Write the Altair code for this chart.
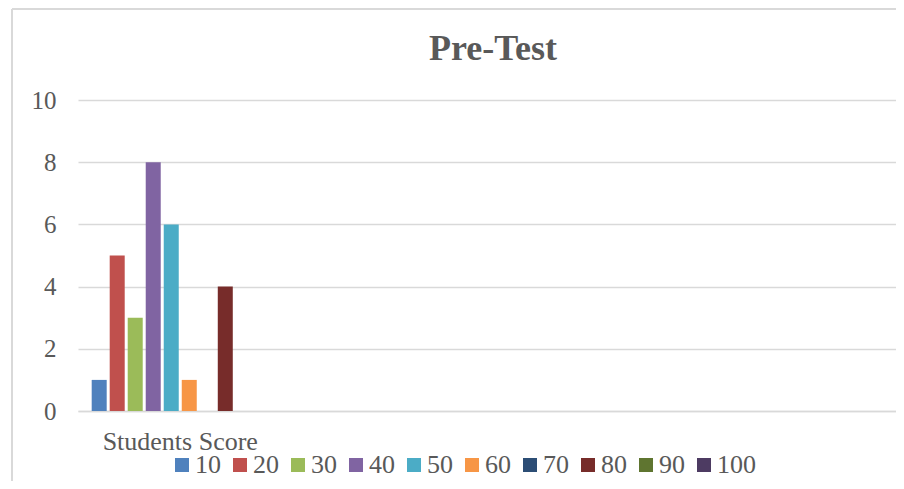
import altair as alt
import pandas as pd

categories = ["Students Score"]
series = ["10", "20", "30", "40", "50", "60", "70", "80", "90", "100"]
values = [1, 5, 3, 8, 6, 1, 0, 4, 0, 0]
colors = ["#4F81BD", "#C0504D", "#9BBB59", "#8064A2", "#4BACC6",
          "#F79646", "#2C4D75", "#772C2A", "#5F7530", "#4D3B62"]
x_domain = ["Students Score", " ", "  ", "   "]
y_ticks = [0, 2, 4, 6, 8, 10]

df = pd.DataFrame({
    "category": categories * len(series),
    "series": series,
    "value": values,
})

W, H = 818, 311
FONT = "Liberation Serif"
TXT = "#595959"
GRID = "#d9d9d9"

bars = alt.Chart(df).mark_bar().encode(
    x=alt.X(
        "category:N",
        scale=alt.Scale(domain=x_domain, paddingInner=0, paddingOuter=0),
        axis=alt.Axis(title=None, labelAngle=0, labelFontSize=26, labelFont=FONT,
                      labelColor=TXT, labelBaseline="alphabetic", labelPadding=38,
                      ticks=False, domainColor=GRID, domainWidth=1.5, grid=False),
    ),
    xOffset=alt.XOffset("series:N", sort=series,
                        scale=alt.Scale(paddingInner=0.167, paddingOuter=0.76)),
    y=alt.Y(
        "value:Q",
        scale=alt.Scale(domain=[0, 10]),
        axis=alt.Axis(values=y_ticks, title=None, labelFontSize=25, labelFont=FONT,
                      labelColor=TXT, labelPadding=22, ticks=False, domain=False,
                      gridColor=GRID, gridWidth=1.5),
    ),
    color=alt.Color(
        "series:N", sort=series,
        scale=alt.Scale(domain=series, range=colors),
        legend=alt.Legend(title=None, orient="none", legendX=91, legendY=352,
                          direction="horizontal", columns=10, gridAlign="none",
                          symbolType="square",
                          symbolSize=196, symbolStrokeWidth=0, symbolOpacity=1,
                          labelFontSize=26, labelFont=FONT, labelColor=TXT,
                          labelOffset=0, columnPadding=6),
    ),
)

frame = pd.DataFrame({"k": [0]})
left_border = alt.Chart(frame).mark_rule(color=GRID, strokeWidth=2).encode(
    x=alt.value(-66), y=alt.value(-91), y2=alt.value(H + 70)
)
top_border = alt.Chart(frame).mark_rule(color=GRID, strokeWidth=2).encode(
    x=alt.value(-66), x2=alt.value(W), y=alt.value(-91)
)

chart = alt.layer(bars, left_border, top_border).properties(
    width=W, height=H,
    title=alt.TitleParams("Pre-Test", font=FONT, fontSize=36, fontWeight="bold",
                          color=TXT, anchor="middle", offset=-88,
                          baseline="alphabetic", dx=6),
    autosize=alt.AutoSizeParams(type="none"),
    padding={"left": 70, "top": 92, "right": 0, "bottom": 70},
).configure_view(stroke=None)

chart.save("out.html", embed_options={"renderer": "svg", "actions": False})
